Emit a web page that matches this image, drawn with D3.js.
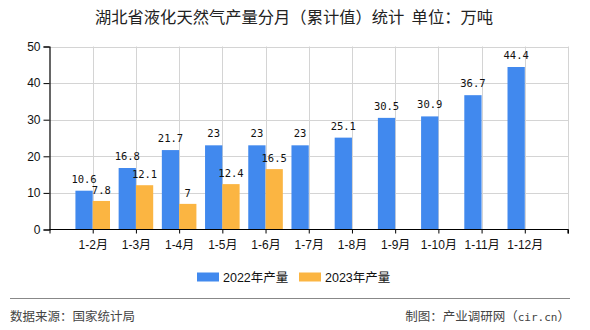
<!DOCTYPE html>
<html>
<head>
<meta charset="utf-8">
<script src="https://cdn.jsdelivr.net/npm/d3@7/dist/d3.min.js"></script>
<style>
  html, body { margin: 0; padding: 0; background: #fff; }
  svg { display: block; font-family: "Liberation Sans", "Noto Sans CJK SC", sans-serif; }
</style>
</head>
<body>
<svg id="chart" width="590" height="330"></svg>
<script>
// Monthly cumulative LNG output, Hubei (10k tonnes)
const categories = ["1-2月", "1-3月", "1-4月", "1-5月", "1-6月", "1-7月", "1-8月", "1-9月", "1-10月", "1-11月", "1-12月"];
const values2022 = [10.6, 16.8, 21.7, 23, 23, 23, 25.1, 30.5, 30.9, 36.7, 44.4];
const values2023 = [7.8, 12.1, 7, 12.4, 16.5];
const seriesNames = ["2022年产量", "2023年产量"];
const seriesColors = ["#4189ee", "#fbb542"];
const yTicks = [0, 10, 20, 30, 40, 50];

const svg = d3.select("#chart");
const plotLeft = 49.5, plotRight = 568, plotTop = 46.5, plotBottom = 229.5;

// Axis positions: a blank slot before the first month and after the last one
const slots = ["__start", ...categories, "__end"];
const x = d3.scalePoint().domain(slots).range([plotLeft, plotRight]);
const step = x.step();
const barW = step * 0.4;

const y = d3.scaleLinear().domain([0, 50]).range([plotBottom, plotTop]);

// Grid
const grid = svg.append("g").attr("stroke", "#d4d4d4").attr("stroke-width", 1);
grid.selectAll("line.h").data(yTicks.filter(d => d > 0)).join("line")
  .attr("x1", plotLeft).attr("x2", plotRight)
  .attr("y1", d => Math.round(y(d)) + 0.5).attr("y2", d => Math.round(y(d)) + 0.5);
grid.selectAll("line.v").data(slots.slice(1)).join("line")
  .attr("x1", d => Math.round(x(d)) + 0.5).attr("x2", d => Math.round(x(d)) + 0.5)
  .attr("y1", plotTop).attr("y2", plotBottom);

// Bars
const bars = svg.append("g");
bars.selectAll("rect.s0").data(values2022).join("rect")
  .attr("x", (d, i) => x(categories[i]) - barW)
  .attr("width", barW)
  .attr("y", d => y(d))
  .attr("height", d => y(0) - y(d))
  .attr("fill", seriesColors[0]);
bars.selectAll("rect.s1").data(values2023).join("rect")
  .attr("x", (d, i) => x(categories[i]))
  .attr("width", barW)
  .attr("y", d => y(d))
  .attr("height", d => y(0) - y(d))
  .attr("fill", seriesColors[1]);

// Value labels
const labels = svg.append("g")
  .attr("font-family", "'DejaVu Sans Mono', monospace")
  .attr("font-size", 10.5).attr("fill", "#111").attr("text-anchor", "middle");
labels.selectAll("text.s0").data(values2022).join("text")
  .attr("x", (d, i) => x(categories[i]) - barW / 2)
  .attr("y", d => y(d) - 8)
  .text(d => d);
labels.selectAll("text.s1").data(values2023).join("text")
  .attr("x", (d, i) => x(categories[i]) + barW / 2)
  .attr("y", d => y(d) - 7)
  .text(d => d);

// Axes
const yAxis = svg.append("g")
  .attr("transform", `translate(${plotLeft},0)`)
  .call(d3.axisLeft(y).tickValues(yTicks).tickSize(6).tickPadding(3));
const xAxis = svg.append("g")
  .attr("transform", `translate(0,${plotBottom})`)
  .call(d3.axisBottom(x).tickSize(4).tickPadding(7)
    .tickFormat(d => d.startsWith("__") ? "" : d));
[yAxis, xAxis].forEach(g => {
  g.select(".domain").attr("stroke", "#000").attr("stroke-width", 1.2);
  g.selectAll(".tick line").attr("stroke", "#000");
  g.selectAll(".tick text").attr("fill", "#111").attr("font-size", 12)
    .attr("font-family", "'Liberation Sans', 'Noto Sans CJK SC', sans-serif");
});
xAxis.select(".domain").attr("d", `M${plotLeft},0H${plotRight}V4`);

// Title
svg.append("text")
  .attr("x", 294).attr("y", 23).attr("text-anchor", "middle")
  .attr("font-size", 16.3).attr("fill", "#222")
  .attr("font-family", "'Noto Sans CJK SC', sans-serif")
  .style("white-space", "pre")
  .text("湖北省液化天然气产量分月（累计值）统计  单位：万吨");

// Legend
const legendX = [197, 299];
const legend = svg.append("g");
seriesNames.forEach((name, i) => {
  legend.append("rect").attr("x", legendX[i]).attr("y", 272.5)
    .attr("width", 22).attr("height", 9).attr("fill", seriesColors[i]);
  legend.append("text").attr("x", legendX[i] + 26).attr("y", 281.5)
    .attr("font-size", 12.5).attr("fill", "#111")
    .attr("font-family", "'Liberation Sans', 'Noto Sans CJK SC', sans-serif")
    .text(name);
});

// Footer
svg.append("line").attr("x1", 10).attr("x2", 570).attr("y1", 298.5).attr("y2", 298.5)
  .attr("stroke", "#888").attr("stroke-width", 1.2);
svg.append("text").attr("x", 10).attr("y", 321)
  .attr("font-size", 12.5).attr("fill", "#444")
  .attr("font-family", "'Noto Sans CJK SC', sans-serif")
  .text("数据来源：国家统计局");
const credit = svg.append("text").attr("x", 570).attr("y", 321).attr("text-anchor", "end")
  .attr("font-size", 12.5).attr("fill", "#444")
  .attr("font-family", "'Noto Sans CJK SC', sans-serif");
credit.append("tspan").text("制图：产业调研网（");
credit.append("tspan").attr("font-family", "'DejaVu Sans Mono', monospace").attr("font-size", 11).text("cir.cn");
credit.append("tspan").text("）");
</script>
</body>
</html>
